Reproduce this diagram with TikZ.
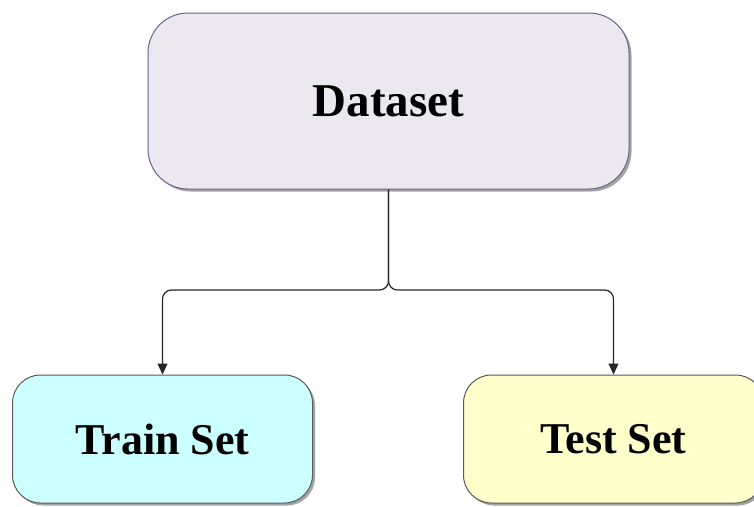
\documentclass[tikz,border=0pt]{standalone}
\usepackage{fontspec}
\setmainfont{Liberation Serif}
\usetikzlibrary{shadows,arrows.meta}

\definecolor{dsfill}{HTML}{ECE8F0}
\definecolor{dsline}{HTML}{6E6382}
\definecolor{trainfill}{HTML}{CCFFFF}
\definecolor{testfill}{HTML}{FFFFCC}

\tikzset{
    box/.style={draw=black!65, line width=1pt, rounded corners=28pt, align=center,
        font=\bfseries\fontsize{44}{48}\selectfont,
        drop shadow={shadow xshift=2.5pt, shadow yshift=-2.5pt, opacity=0.55, fill=black!65}},
    link/.style={draw=black!85, line width=1.2pt, rounded corners=9pt, -{Triangle[length=11pt, width=10pt]}}
}

\begin{document}
\begin{tikzpicture}[x=1pt, y=1pt]
    \useasboundingbox (0,0) rectangle (754,-506);
    % the whole set on top, the two parts below
    \node[box, fill=dsfill, draw=dsline, rounded corners=40pt, minimum width=481pt, minimum height=176pt,
        font=\bfseries\fontsize{47}{50}\selectfont] (dataset) at (388.5,-101) {Dataset};
    \node[box, fill=trainfill, minimum width=300pt, minimum height=128pt] (train) at (162.5,-439) {Train Set};
    \node[box, fill=testfill, minimum width=300pt, minimum height=128pt] (test) at (613.5,-439) {Test Set};
    % split point
    \coordinate (fork) at (388.5,-290);
    \draw[link] (dataset.south) -- (fork) -| (train.north);
    \draw[link] (dataset.south) -- (fork) -| (test.north);
\end{tikzpicture}
\end{document}
